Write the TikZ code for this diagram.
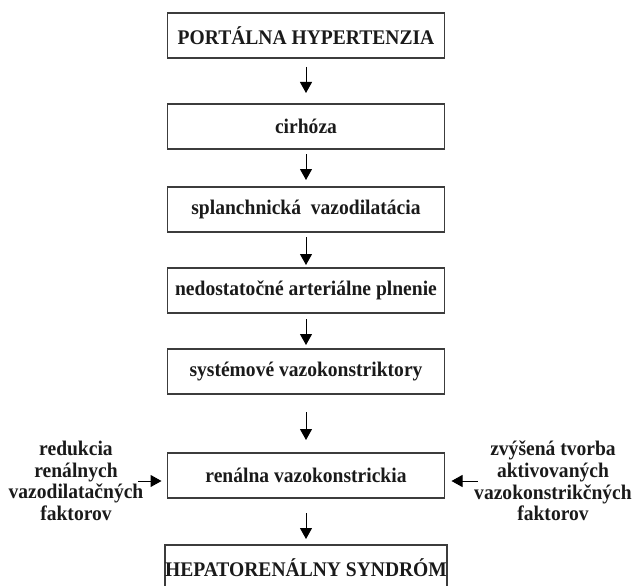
\documentclass[tikz,border=0pt]{standalone}
\usepackage{fontspec}
\setmainfont{Liberation Serif}[FakeStretch=0.94]
\usetikzlibrary{arrows.meta, positioning}
\definecolor{cline}{HTML}{3C3C3C}
\definecolor{ctext}{HTML}{1A1A1A}
\tikzset{
  every picture/.style={font=\bfseries\fontsize{20.8pt}{21.7pt}\selectfont, line width=1pt},
  box/.style={draw=cline, line width=1.3pt, text=ctext, minimum width=277pt, minimum height=45pt, inner sep=0pt, outer sep=0pt},
  arrow/.style={-{Triangle[length=11pt, width=12pt]}, draw=black, line width=1pt},
  side/.style={align=center, text=ctext, inner sep=0pt},
}

\begin{document}
\begin{tikzpicture}
  \useasboundingbox (0,0) rectangle (632pt,-586pt);
  % main chain
  \node[box] (port) at (306pt,-35.5pt) {PORTÁLNA HYPERTENZIA};
  \node[box, below=46pt of port] (cirh) {cirhóza};
  \node[box, below=38pt of cirh] (splan) {splanchnická\ \ vazodilatácia};
  \node[box, below=36pt of splan] (nedo) {nedostatočné arteriálne plnenie};
  \node[box, below=36pt of nedo] (syst) {systémové vazokonstriktory};
  \node[box, below=59pt of syst] (ren) {renálna vazokonstrickia};
  \node[box, below=47pt of ren] (hrs) {HEPATORENÁLNY SYNDRÓM};
  \draw[arrow, shorten <=9pt, shorten >=11pt] (port) -- (cirh);
  \draw[arrow, shorten <=5pt, shorten >=7pt] (cirh) -- (splan);
  \draw[arrow, shorten <=5pt, shorten >=3pt] (splan) -- (nedo);
  \draw[arrow, shorten <=6pt, shorten >=4pt] (nedo) -- (syst);
  \draw[arrow, shorten <=18pt, shorten >=13pt] (syst) -- (ren);
  \draw[arrow, shorten <=15pt, shorten >=6pt] (ren) -- (hrs);
  % side factors
  \node[side] (redu) at (76pt,-481pt) {redukcia\\renálnych\\vazodilatačných\\faktorov};
  \node[side] (tvor) at (553pt,-481pt) {zvýšená tvorba\\aktivovaných\\vazokonstrikčných\\faktorov};
  \draw[arrow, shorten <=-6pt, shorten >=6pt] (redu.east) -- (redu.east -| ren.west);
  \draw[arrow, shorten <=-4pt, shorten >=7pt] (tvor.west) -- (tvor.west -| ren.east);
\end{tikzpicture}
\end{document}
